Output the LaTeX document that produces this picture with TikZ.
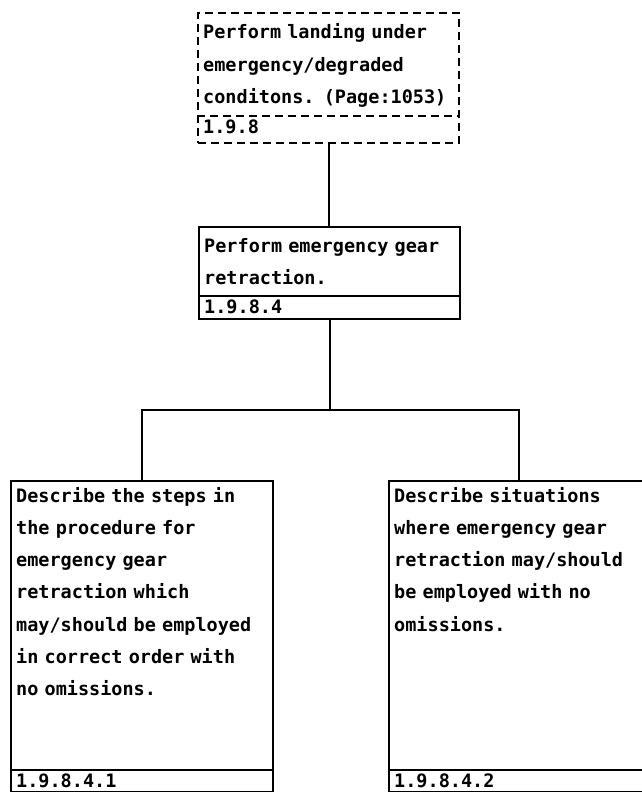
\documentclass[tikz,border=0pt]{standalone}
\usepackage{fontspec}
\setmonofont{DejaVu Sans Mono}
\usetikzlibrary{calc}
\begin{document}
\begin{tikzpicture}[x=1pt,y=-1pt,
  frame/.style={draw=black, line width=2pt, rectangle, inner sep=0pt, anchor=north west},
  dashedframe/.style={frame, dash pattern=on 8pt off 5pt},
  rule/.style={draw=black, line width=2.2pt},
  dashedrule/.style={rule, dash pattern=on 8pt off 5pt},
  link/.style={draw=black, line width=2pt},
  txt/.style={anchor=base west, inner sep=0pt, text width=255pt, align=left,
    font=\ttfamily\bfseries\fontsize{18.5}{32.3}\selectfont}]
\useasboundingbox (0,0) rectangle (642,792);
\fill[white] (0,0) rectangle (642,792);

% top task (dashed)
\node[dashedframe, minimum width=261pt, minimum height=130pt] (t) at (197,12) {};
\draw[dashedrule] ($(t.south west)+(0,-28)$) -- ($(t.south east)+(0,-28)$);
\node[txt] (ttext) at (203,39) {Perform landing under\\emergency/degraded\\conditons. (Page:1053)};
\node[txt] (tnum) at (203,133) {1.9.8};

% middle task
\node[frame, minimum width=261pt, minimum height=92pt] (m) at (198,226) {};
\draw[rule] ($(m.south west)+(0,-24)$) -- ($(m.south east)+(0,-24)$);
\node[txt] (mtext) at (204,252) {Perform emergency gear\\retraction.};
\node[txt] (mnum) at (204,313) {1.9.8.4};

% lower-left task
\node[frame, minimum width=262pt, minimum height=311pt] (l) at (10,480) {};
\draw[rule] ($(l.south west)+(0,-23)$) -- ($(l.south east)+(0,-23)$);
\node[txt] (ltext) at (16,502) {Describe the steps in\\the procedure for\\emergency gear\\retraction which\\may/should be employed\\in correct order with\\no omissions.};
\node[txt] (lnum) at (16,787) {1.9.8.4.1};

% lower-right task
\node[frame, minimum width=260pt, minimum height=311pt] (r) at (388,480) {};
\draw[rule] ($(r.south west)+(0,-23)$) -- ($(r.south east)+(0,-23)$);
\node[txt] (rtext) at (394,502) {Describe situations\\where emergency gear\\retraction may/should\\be employed with no\\omissions.};
\node[txt] (rnum) at (394,787) {1.9.8.4.2};

% connectors
\coordinate (bus) at (329,410);
\draw[link] (t.south) -- (t.south |- m.north);
\draw[link] (m.south) -- (m.south |- bus);
\draw[link] (l.north) -- (l.north |- bus) -- (r.north |- bus) -- (r.north);
\end{tikzpicture}
\end{document}
